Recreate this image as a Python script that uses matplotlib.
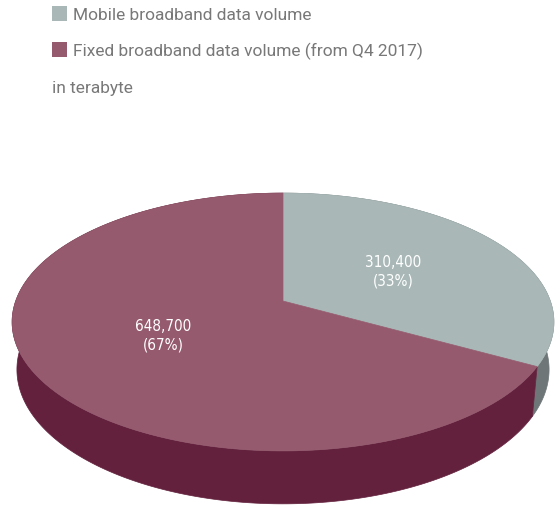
import numpy as np
import matplotlib.pyplot as plt
from matplotlib.patches import Polygon, Rectangle

# data volume, in terabyte
labels = ["Mobile broadband data volume", "Fixed broadband data volume (from Q4 2017)"]
values = [310400, 648700]
shares = [33, 67]    # per cent
top_colors = ["#a9b8b7", "#955a6e"]
side_colors = ["#6e7677", "#63213d"]

# simple perspective camera for the tilted disc
elev = np.radians(28)
dist = 6.14          # camera distance, in disc radii (scaled by cos(elev))
scale = 1641         # px
depth = 0.203        # disc thickness, in radii
cx, cy = 283, 302    # px position of the disc centre


def project(theta, r=1.0, z=0.0):
    x = r * np.cos(theta)
    y = r * np.sin(theta)
    s, c = np.sin(elev), np.cos(elev)
    w = dist + y - z * s / c
    px = cx + scale * x / w
    py = cy - scale * (y * s + z * c) / w
    return px, py


fig = plt.figure(figsize=(5.55, 5.06), dpi=100)
ax = fig.add_axes([0, 0, 1, 1])
ax.set_xlim(0, 555)
ax.set_ylim(506, 0)
ax.axis("off")

# slices run clockwise from 12 o'clock
start = np.pi / 2
spans = []
for p in shares:
    end = start - 2 * np.pi * p / sum(shares)
    spans.append((start, end))
    start = end

# side walls first, top faces over them
for (a1, a2), col in zip(spans, side_colors):
    t = np.linspace(a1, a2, 300)
    tx, ty = project(t)
    bx, by = project(t, z=-depth)
    pts = np.column_stack([np.r_[tx, bx[::-1]], np.r_[ty, by[::-1]]])
    ax.add_patch(Polygon(pts, closed=True, fc=col, ec=col, lw=0.5))

for (a1, a2), col in zip(spans, top_colors):
    t = np.linspace(a1, a2, 300)
    tx, ty = project(t)
    pts = np.column_stack([np.r_[cx, tx], np.r_[cy, ty]])
    ax.add_patch(Polygon(pts, closed=True, fc=col, ec=col, lw=0.5))

# value labels inside the slices
for (a1, a2), v, p in zip(spans, values, shares):
    lx, ly = project((a1 + a2) / 2, r=0.5)
    ax.text(lx, ly, f"{v:,}\n({p}%)", color="white", ha="center", va="center",
            fontsize=11, family=["Liberation Sans Narrow", "DejaVu Sans"],
            stretch="condensed", linespacing=1.3)

# legend
for i, (lab, col) in enumerate(zip(labels, top_colors)):
    y0 = 7 + i * 36
    ax.add_patch(Rectangle((52, y0), 15, 15, fc=col, ec="none"))
    ax.text(73, y0 + 8, lab, color="#787878", fontsize=12.5, va="center",
            family="Roboto")
ax.text(52, 88, "in terabyte", color="#787878", fontsize=12.5, va="center",
        family="Roboto")

fig.savefig("out.png", dpi=100)
